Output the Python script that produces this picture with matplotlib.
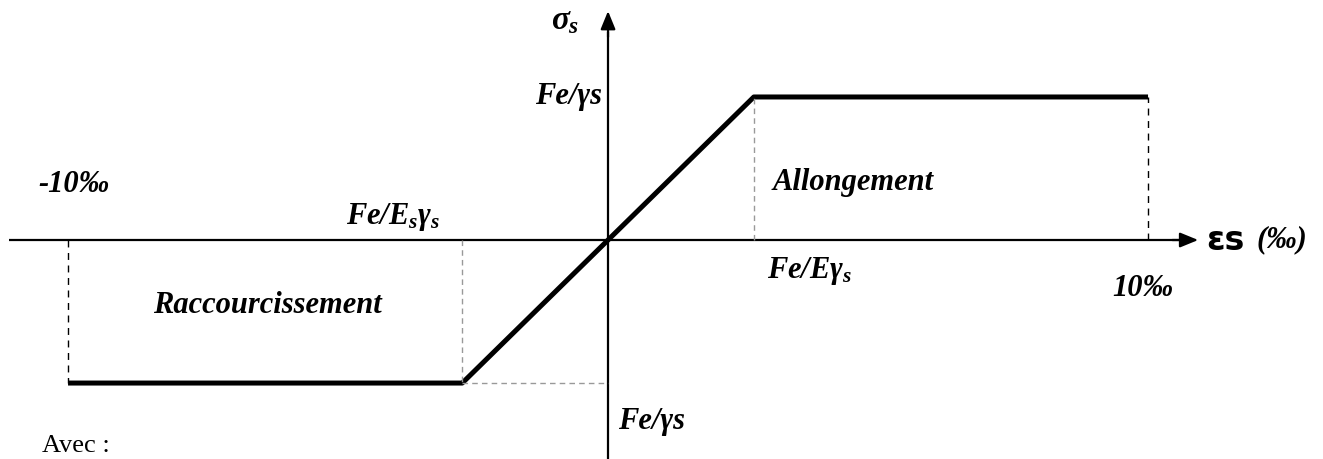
import matplotlib.pyplot as plt

plt.rcParams['mathtext.fontset'] = 'custom'
plt.rcParams['mathtext.rm'] = 'Liberation Serif:italic:bold'
plt.rcParams['mathtext.it'] = 'Liberation Serif:italic:bold'
plt.rcParams['mathtext.bf'] = 'Liberation Serif:italic:bold'

# diagramme contrainte-deformation de l'acier (unites relatives)
eps_lim = [-10, 10]        # deformations limites (‰)
eps_y = 2.7                # Fe/(Es*gamma_s)
sig_y = 1.0                # Fe/gamma_s
curve_eps = [-10, -2.7, 2.7, 10]
curve_sig = [-1.0, -1.0, 1.0, 1.0]

fig = plt.figure(figsize=(13.23, 4.59), dpi=100)
ax = fig.add_axes([0, 0, 1, 1])
ax.set_xlim(-11.26, 13.24)
ax.set_ylim(-1.531, 1.678)
ax.axis('off')

# axes
ax.plot([-11.1, 10.7], [0, 0], color='black', lw=1.6, solid_capstyle='butt')
ax.annotate('', xy=(10.98, 0), xytext=(10.4, 0),
            arrowprops=dict(arrowstyle='-|>,head_length=1.1,head_width=0.45',
                            color='black', lw=1.6))
ax.plot([0, 0], [-1.531, 1.45], color='black', lw=1.6)
ax.annotate('', xy=(0, 1.62), xytext=(0, 1.40),
            arrowprops=dict(arrowstyle='-|>,head_length=1.1,head_width=0.45',
                            color='black', lw=1.6))

# loi de comportement
ax.plot(curve_eps, curve_sig, color='black', lw=3.6, solid_capstyle='butt')

# lignes de rappel
ax.plot([eps_lim[0], eps_lim[0]], [0, -sig_y], color='black', lw=1.0, ls=(0, (5, 4)))
ax.plot([eps_lim[1], eps_lim[1]], [0, sig_y], color='black', lw=1.0, ls=(0, (5, 4)))
ax.plot([-eps_y, -eps_y], [0, -sig_y], color='#999999', lw=1.0, ls=(0, (4, 3)))
ax.plot([-eps_y, 0], [-sig_y, -sig_y], color='#999999', lw=1.0, ls=(0, (4, 3)))
ax.plot([eps_y, eps_y], [0, sig_y], color='#999999', lw=1.0, ls=(0, (4, 3)))

fs = 22
kw = dict(fontsize=fs, family='Liberation Serif', style='italic', weight='bold')
ax.text(-0.8, 1.54, r'$\sigma_s$', fontsize=fs + 2, ha='center', va='center')
ax.text(-0.12, 1.0, 'Fe/γs', ha='right', va='center', **kw)
ax.text(-9.9, 0.385, '-10‰', ha='center', va='center', **kw)
ax.text(-3.98, 0.16, r'$Fe/E_s\gamma_s$', fontsize=fs, ha='center', va='center')
ax.text(-6.3, -0.46, 'Raccourcissement', ha='center', va='center', **kw)
ax.text(0.19, -1.27, 'Fe/γs', ha='left', va='center', **kw)
ax.text(3.05, 0.405, 'Allongement', ha='left', va='center', **kw)
ax.text(3.74, -0.22, r'$Fe/E\gamma_s$', fontsize=fs, ha='center', va='center')
ax.text(9.9, -0.34, '10‰', ha='center', va='center', **kw)
ax.text(11.08, 0.0, 'εs', fontsize=fs + 2, family='DejaVu Sans', weight='bold',
        ha='left', va='center')
ax.text(12.0, 0.0, '(‰)', ha='left', va='center', **kw)
ax.text(-10.48, -1.44, 'Avec :', fontsize=fs - 3, family='Liberation Serif',
        ha='left', va='center')

fig.savefig('out.png', dpi=100)
